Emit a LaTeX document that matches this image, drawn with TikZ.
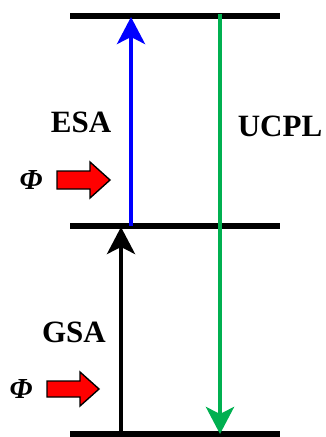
\documentclass[tikz,border=0pt]{standalone}
\usepackage{fontspec}
\setmainfont{Liberation Serif}
\usetikzlibrary{arrows.meta}
\definecolor{ucgreen}{RGB}{0,176,80}
\definecolor{esablue}{RGB}{0,0,255}
\begin{document}
\begin{tikzpicture}[x=1pt,y=-1pt,
  level/.style={line width=6.5pt,black},
  trans/.style={line width=4pt,-{Stealth[length=27pt,width=28pt,inset=7pt]}},
  lbl/.style={font=\bfseries\fontsize{31}{31}\selectfont,inner sep=0pt},
  phi/.style={font=\bfseries\itshape\fontsize{29}{29}\selectfont,inner sep=0pt},
  pump/.style={draw=black,fill=red,line width=1.4pt,line join=miter}]
\useasboundingbox (0,0) rectangle (326,437);
% levels
\coordinate (t1) at (70,16);  \coordinate (t2) at (280,16);
\coordinate (m1) at (70,226); \coordinate (m2) at (280,226);
\coordinate (b1) at (70,434); \coordinate (b2) at (280,434);
\draw[level] (t1) -- (t2);
\draw[level] (m1) -- (m2);
\draw[level] (b1) -- (b2);
% transitions
\coordinate (gsaS) at (121,434); \coordinate (gsaE) at (121,227);
\coordinate (esaS) at (131,226); \coordinate (esaE) at (131,17);
\coordinate (ucS) at (220,14);  \coordinate (ucE) at (220,434);
\draw[trans,black] (gsaS) -- (gsaE);
\draw[trans,esablue] (esaS) -- (esaE);
\draw[trans,ucgreen,line width=4.5pt] (ucS) -- (ucE);
% labels
\node[lbl] (esa) at (81,122) {ESA};
\node[lbl] (ucpl) at (280,126) {UCPL};
\node[lbl] (gsa) at (74,332) {GSA};
\node[phi] (phi1) at (31,180) {Φ};
\node[phi] (phi2) at (21,389) {Φ};
% pump arrows
\draw[pump] (57,171) -- (90,171) -- (90,162) -- (110,180) -- (90,198) -- (90,189) -- (57,189) -- cycle;
\draw[pump] (47,381) -- (80,381) -- (80,372) -- (99,389) -- (80,406) -- (80,397) -- (47,397) -- cycle;
\end{tikzpicture}
\end{document}
